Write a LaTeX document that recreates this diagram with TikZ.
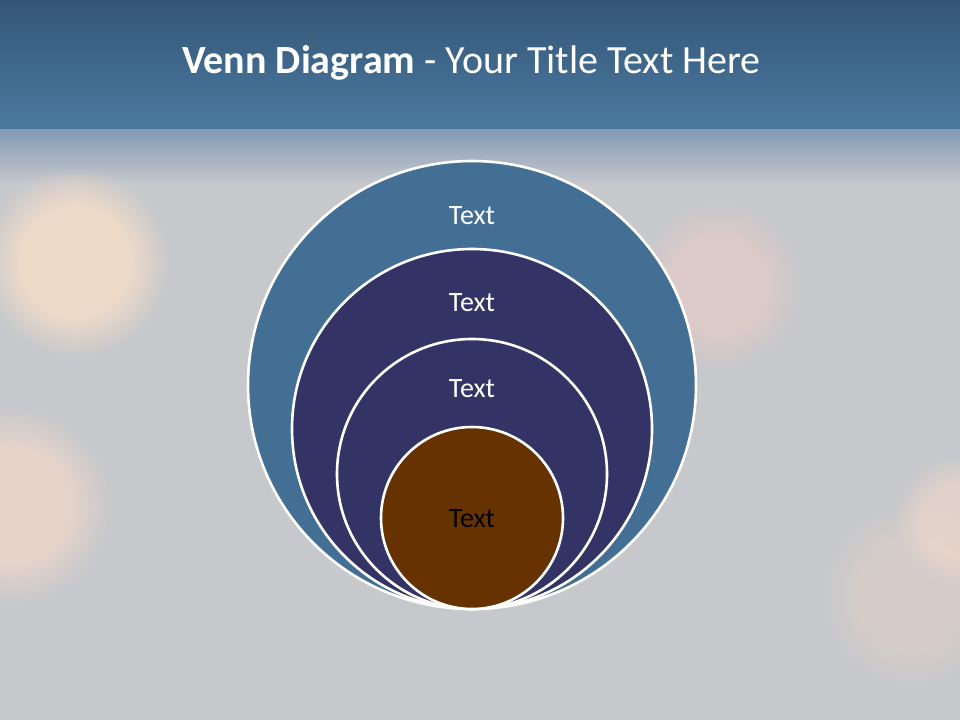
\documentclass[tikz,border=0pt]{standalone}
\usepackage{fontspec}
\usetikzlibrary{fadings}
\setmainfont{Carlito}
\definecolor{bandtop}{HTML}{345676}
\definecolor{bandbot}{HTML}{4A79A0}
\definecolor{fadetop}{HTML}{8199B3}
\definecolor{bggray}{HTML}{C6C8CC}
\definecolor{peach}{HTML}{F3DDC9}
\definecolor{peachb}{HTML}{EED7CA}
\definecolor{pinkish}{HTML}{E2CBC8}
\definecolor{peachc}{HTML}{DFD0C8}
\definecolor{outerblue}{HTML}{446F94}
\definecolor{navy}{HTML}{333366}
\definecolor{brown}{HTML}{663300}
\pgfdeclareradialshading{softblobsh}{\pgfpointorigin}{color(0bp)=(pgftransparent!0); color(14bp)=(pgftransparent!0); color(25bp)=(pgftransparent!100); color(50bp)=(pgftransparent!100)}
\pgfdeclarefading{softblob}{\pgfuseshading{softblobsh}}
\tikzset{
  ring/.style={circle, draw=white, line width=2.6pt, inner sep=0pt},
  lbl/.style={font=\fontsize{28pt}{32pt}\selectfont, text=white},
  blob/.style={fill=#1, path fading=softblob}
}
\begin{document}
\begin{tikzpicture}[x=1pt,y=-1pt]
\useasboundingbox (0,0) rectangle (960,720);
% background
\fill[bggray] (0,0) rectangle (960,720);
\shade[top color=fadetop, bottom color=bggray] (0,127) rectangle (960,185);
\fill[blob=peach, fill opacity=0.9] (75,262) circle[radius=95pt];
\fill[blob=peachb, fill opacity=0.8] (12,505) circle[radius=100pt];
\fill[blob=pinkish, fill opacity=0.8] (718,285) circle[radius=85pt];
\fill[blob=peachc, fill opacity=0.6] (912,595) circle[radius=95pt];
\fill[blob=peachb, fill opacity=0.65] (958,520) circle[radius=65pt];
\shade[top color=bandtop, bottom color=bandbot] (0,0) rectangle (960,128);
% title
\node[text=white, font=\fontsize{40pt}{46pt}\selectfont] (title) at (471.5,63)
  {\textbf{Venn Diagram} - Your Title Text Here};
% circles
\node[ring, fill=outerblue, minimum size=448pt] (c1) at (472,385) {};
\node[ring, fill=navy, minimum size=360pt] (c2) at (472,429) {};
\node[ring, fill=navy, minimum size=270pt] (c3) at (472,474) {};
\node[ring, fill=brown, minimum size=182pt] (c4) at (472,518) {};
% labels
\node[lbl] (t1) at (472,216) {Text};
\node[lbl] (t2) at (472,303) {Text};
\node[lbl] (t3) at (472,389) {Text};
\node[lbl, text=black] (t4) at (472,519) {Text};
\end{tikzpicture}
\end{document}
